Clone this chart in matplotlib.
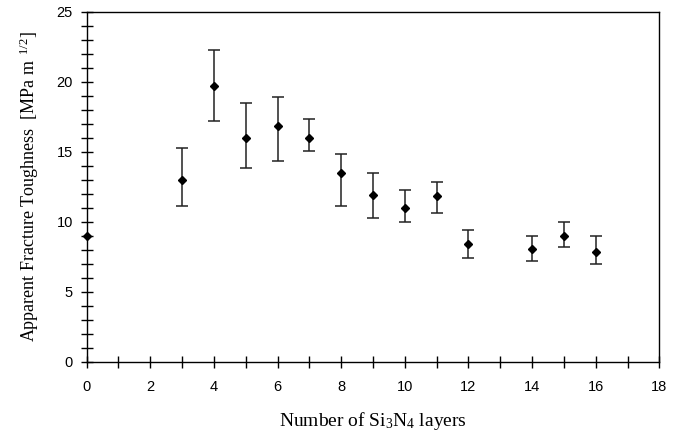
import matplotlib
matplotlib.use("Agg")
import matplotlib.pyplot as plt
from matplotlib.ticker import MultipleLocator

layers = [0, 3, 4, 5, 6, 7, 8, 9, 10, 11, 12, 14, 15, 16]
toughness = [9.0, 13.0, 19.7, 16.0, 16.8, 16.0, 13.5, 11.9, 11.0, 11.8, 8.4, 8.05, 9.0, 7.8]
err_upper = [0.0, 15.25, 22.25, 18.45, 18.9, 17.35, 14.85, 13.45, 12.25, 12.85, 9.4, 8.95, 10.0, 8.95]
err_lower = [9.0, 11.15, 17.2, 13.8, 14.35, 15.05, 11.1, 10.25, 10.0, 10.65, 7.4, 7.2, 8.15, 7.0]

plt.rcParams['mathtext.fontset'] = 'custom'
plt.rcParams['mathtext.rm'] = 'Liberation Serif'
plt.rcParams['mathtext.it'] = 'Liberation Serif:italic'

fig = plt.figure(figsize=(6.77, 4.33), dpi=100)
ax = fig.add_axes([0.128, 0.165, 0.846, 0.808])

yerr_lo = [t - l for t, l in zip(toughness, err_lower)]
yerr_hi = [u - t for t, u in zip(toughness, err_upper)]

# first point (monolithic) has no error bar
ax.errorbar(layers[1:], toughness[1:], yerr=[yerr_lo[1:], yerr_hi[1:]], fmt='D', color='black',
            ecolor='#222222', elinewidth=1.1, capsize=4, capthick=1.1, markersize=4.5,
            clip_on=False, zorder=3)
ax.plot(layers[:1], toughness[:1], 'D', color='black', markersize=4.5, clip_on=False, zorder=4)

ax.set_xlim(0, 18)
ax.set_ylim(0, 25)
ax.xaxis.set_major_locator(MultipleLocator(2))
ax.xaxis.set_minor_locator(MultipleLocator(1))
ax.yaxis.set_major_locator(MultipleLocator(5))
ax.yaxis.set_minor_locator(MultipleLocator(1))
ax.tick_params(which='both', direction='inout', length=8, width=1.0, color='black',
               top=False, right=False)
ax.tick_params(axis='x', which='major', labelsize=10.5, pad=9)
ax.tick_params(axis='y', which='major', labelsize=10.5, pad=6)
for lab in ax.get_xticklabels() + ax.get_yticklabels():
    lab.set_fontfamily('Liberation Sans')

for sp in ax.spines.values():
    sp.set_linewidth(1.0)
    sp.set_color('black')

ax.set_xlabel(r'Number of Si$_3$N$_4$ layers', fontsize=14, family='Liberation Serif', labelpad=12)
ax.set_ylabel(r'Apparent Fracture Toughness  [MPa m$^{\ \ 1/2}$]', fontsize=13,
              family='Liberation Serif', labelpad=11)

fig.savefig('out.png', dpi=100)
